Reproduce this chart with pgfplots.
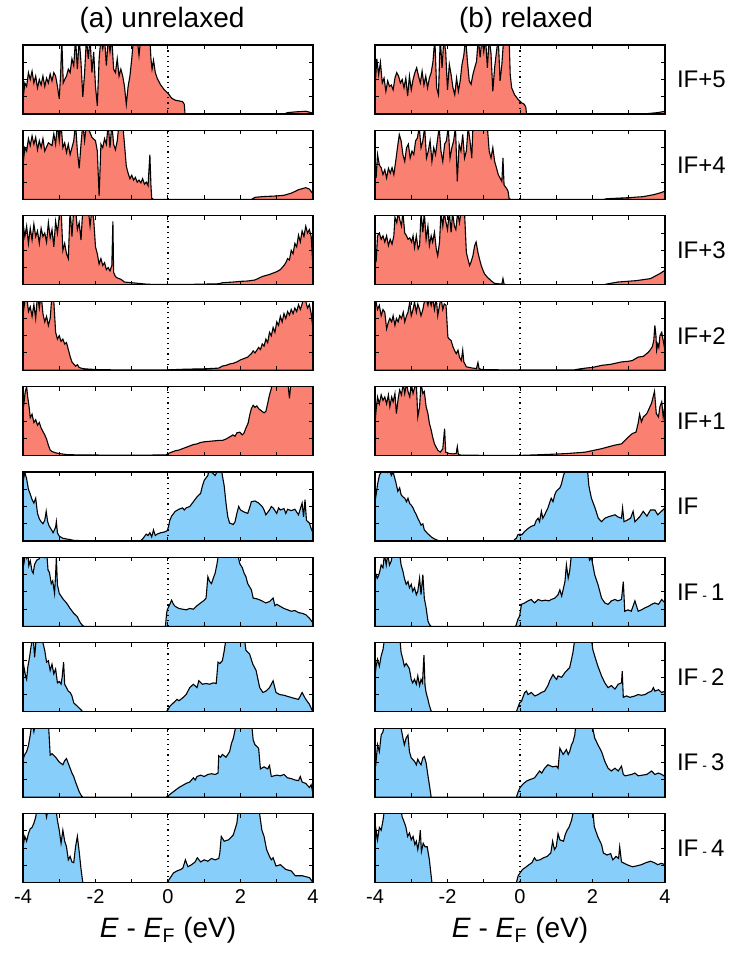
\documentclass[border=0pt]{standalone}
\usepackage{pgfplots}
\pgfplotsset{compat=1.18}
\usepackage{fontspec}
\setmainfont{Liberation Sans}
\definecolor{salm}{RGB}{250,128,114}
\definecolor{skyb}{RGB}{135,206,250}
\pgfplotsset{
 panel/.style={width=145pt,height=34.5pt,scale only axis,anchor=north west,
  xmin=-4,xmax=4,ymin=0,ymax=100,
  xtick={-4,-3,-2,-1,0,1,2,3,4},ytick={25,50,75},
  xticklabels={},yticklabels={},
  tick align=inside,major tick length=2pt,
  tick style={line width=0.5pt,black},
  axis line style={line width=0.6pt},axis on top},
 bottompanel/.style={xticklabels={-4,,-2,,0,,2,,4},
  xticklabel style={font=\fontsize{10}{12}\selectfont},
  xlabel={\textit{E} - \textit{E}\textsubscript{F} (eV)},
  xlabel style={font=\fontsize{14}{16}\selectfont}},
 rf/.style={draw=black,line width=0.55pt,fill=salm},
 bf/.style={draw=black,line width=0.55pt,fill=skyb},
 zl/.style={black,dotted,line width=0.6pt},
}
\begin{document}
\begin{tikzpicture}
\useasboundingbox (0,0) rectangle (373pt,-481.5pt);
\node[font=\fontsize{14}{16}\selectfont] at (81pt,-10pt) {(a) unrelaxed};
\node[font=\fontsize{14}{16}\selectfont] at (263pt,-10pt) {(b) relaxed};
\foreach \y/\t in {39.75/{IF+5},82.45/{IF+4},125.15/{IF+3},167.85/{IF+2},210.55/{IF+1},253.25/{IF},295.95/{IF\,{\scriptsize -}\,1},338.65/{IF\,{\scriptsize -}\,2},381.35/{IF\,{\scriptsize -}\,3},424.05/{IF\,{\scriptsize -}\,4}}
  \node[anchor=west,font=\fontsize{12}{14}\selectfont] at (335pt,-\y pt) {\t};
% ---------------- left column ----------------
\begin{axis}[panel,at={(11.5pt,-22.5pt)}]
\addplot[rf] coordinates {(-4,20)(-3.95,45)(-3.9,40)(-3.85,60)(-3.8,50)(-3.75,62)(-3.7,45)(-3.65,55)(-3.6,38)(-3.55,50)(-3.5,42)(-3.45,55)(-3.4,40)(-3.35,52)(-3.3,45)(-3.25,58)(-3.2,48)(-3.15,60)(-3.1,55)(-3.05,40)(-3,22)(-2.96,60)(-2.93,110)(-2.89,45)(-2.85,50)(-2.8,55)(-2.75,65)(-2.7,60)(-2.65,80)(-2.6,70)(-2.55,110)(-2.5,65)(-2.45,110)(-2.4,75)(-2.35,25)(-2.3,60)(-2.25,110)(-2.2,80)(-2.15,110)(-2.1,60)(-2.05,90)(-2,40)(-1.95,12)(-1.9,80)(-1.85,110)(-1.8,95)(-1.75,110)(-1.7,70)(-1.65,110)(-1.6,90)(-1.55,110)(-1.5,65)(-1.45,60)(-1.4,80)(-1.35,55)(-1.3,65)(-1.25,55)(-1.2,40)(-1.15,14)(-1.1,40)(-1.05,55)(-1,80)(-0.95,110)(-0.85,110)(-0.8,85)(-0.75,110)(-0.5,110)(-0.47,80)(-0.44,65)(-0.4,78)(-0.35,60)(-0.3,52)(-0.2,42)(-0.1,35)(0,30)(0.1,23)(0.2,20)(0.3,19)(0.4,18)(0.45,14)(0.47,0)(3.2,0)(3.3,2)(3.5,3)(3.8,4)(3.95,2)(4,0)} \closedcycle;
\addplot[zl] coordinates {(0,0)(0,100)};
\end{axis}
\begin{axis}[panel,at={(11.5pt,-65.2pt)}]
\addplot[rf] coordinates {(-4,50)(-3.95,75)(-3.9,70)(-3.85,88)(-3.8,78)(-3.75,92)(-3.7,80)(-3.65,90)(-3.6,72)(-3.55,85)(-3.5,75)(-3.45,88)(-3.4,70)(-3.3,82)(-3.2,78)(-3.15,95)(-3.1,80)(-3.05,110)(-3,85)(-2.95,110)(-2.9,75)(-2.85,82)(-2.8,68)(-2.75,80)(-2.7,65)(-2.65,75)(-2.6,85)(-2.55,110)(-2.5,70)(-2.45,45)(-2.4,80)(-2.35,110)(-2.3,85)(-2.25,110)(-2.1,90)(-2,85)(-1.95,70)(-1.9,5)(-1.85,80)(-1.8,75)(-1.75,88)(-1.7,80)(-1.65,110)(-1.6,75)(-1.55,110)(-1.5,80)(-1.45,72)(-1.4,85)(-1.35,110)(-1.25,110)(-1.2,80)(-1.15,48)(-1.1,38)(-1.05,30)(-1,35)(-0.95,28)(-0.9,32)(-0.85,25)(-0.8,28)(-0.75,24)(-0.7,30)(-0.65,22)(-0.6,25)(-0.55,20)(-0.5,65)(-0.47,20)(-0.45,2)(-0.4,0)(2.3,0)(2.4,3)(2.6,4)(3,5)(3.2,6)(3.4,9)(3.6,14)(3.8,17)(3.9,15)(4,8)} \closedcycle;
\addplot[zl] coordinates {(0,0)(0,100)};
\end{axis}
\begin{axis}[panel,at={(11.5pt,-107.9pt)}]
\addplot[rf] coordinates {(-4,90)(-3.95,70)(-3.9,85)(-3.85,60)(-3.8,82)(-3.75,65)(-3.7,88)(-3.65,70)(-3.6,78)(-3.55,60)(-3.5,82)(-3.45,70)(-3.4,75)(-3.35,62)(-3.3,90)(-3.25,68)(-3.2,80)(-3.15,55)(-3.1,92)(-3.05,75)(-3,100)(-2.95,110)(-2.9,50)(-2.85,60)(-2.8,45)(-2.75,38)(-2.7,110)(-2.65,70)(-2.6,110)(-2.55,110)(-2.5,80)(-2.45,90)(-2.4,65)(-2.35,110)(-2.2,110)(-2.15,85)(-2.1,110)(-2.05,95)(-2,55)(-1.95,45)(-1.9,30)(-1.85,38)(-1.8,28)(-1.75,32)(-1.7,22)(-1.65,25)(-1.6,20)(-1.55,28)(-1.52,92)(-1.5,18)(-1.45,12)(-1.4,10)(-1.3,8)(-1.2,4)(-1,3)(-0.8,2)(-0.6,1)(-0.4,0.5)(0.5,0.5)(1,1)(1.4,1.5)(1.5,3)(1.8,4)(2,5)(2.2,5.5)(2.4,7)(2.6,12)(2.8,15)(3,19)(3.1,22)(3.2,28)(3.25,32)(3.3,38)(3.35,36)(3.4,50)(3.45,45)(3.5,60)(3.55,55)(3.6,72)(3.65,62)(3.7,78)(3.75,70)(3.8,85)(3.85,75)(3.9,80)(3.95,70)(4,25)} \closedcycle;
\addplot[zl] coordinates {(0,0)(0,100)};
\end{axis}
\begin{axis}[panel,at={(11.5pt,-150.6pt)}]
\addplot[rf] coordinates {(-4,80)(-3.95,100)(-3.9,110)(-3.85,85)(-3.8,92)(-3.75,78)(-3.7,95)(-3.65,75)(-3.6,110)(-3.55,90)(-3.5,110)(-3.45,82)(-3.4,70)(-3.35,78)(-3.3,65)(-3.25,75)(-3.2,110)(-3.15,100)(-3.1,55)(-3.05,45)(-3,50)(-2.95,42)(-2.9,45)(-2.85,38)(-2.8,40)(-2.75,30)(-2.7,20)(-2.65,12)(-2.6,9)(-2.55,6)(-2.5,8)(-2.45,4)(-2.4,3)(-2.3,2)(-2,1)(-1.5,0.5)(0,0.5)(0.5,1.5)(1,2)(1.4,3)(1.5,6)(1.6,7)(1.7,9)(1.8,10)(1.9,12)(2,15)(2.1,17)(2.2,19)(2.3,24)(2.35,28)(2.4,25)(2.5,33)(2.55,30)(2.6,38)(2.65,35)(2.7,45)(2.75,40)(2.8,55)(2.85,50)(2.9,62)(2.95,55)(3,70)(3.05,65)(3.1,78)(3.15,70)(3.2,82)(3.25,75)(3.3,85)(3.35,80)(3.4,88)(3.45,82)(3.5,90)(3.55,85)(3.6,95)(3.65,88)(3.7,96)(3.75,110)(3.8,100)(3.85,90)(3.9,95)(3.95,82)(4,60)} \closedcycle;
\addplot[zl] coordinates {(0,0)(0,100)};
\end{axis}
\begin{axis}[panel,at={(11.5pt,-193.3pt)}]
\addplot[rf] coordinates {(-4,65)(-3.97,78)(-3.94,92)(-3.9,100)(-3.87,85)(-3.83,70)(-3.8,55)(-3.75,60)(-3.7,48)(-3.65,52)(-3.6,44)(-3.55,48)(-3.5,40)(-3.45,35)(-3.4,30)(-3.35,24)(-3.3,15)(-3.25,8)(-3.2,6)(-3.1,4)(-3,3)(-2.8,1.5)(-2.5,1)(-1,0.5)(-0.05,1)(0,3)(0.1,5)(0.2,7)(0.3,8)(0.4,10)(0.5,12)(0.6,14)(0.7,16)(0.8,17)(0.9,19)(1,20)(1.2,21)(1.4,22)(1.5,22)(1.6,24)(1.7,27)(1.79,30)(1.85,28)(1.9,33)(1.98,34)(2.05,30)(2.1,33)(2.15,40)(2.21,47)(2.26,60)(2.3,68)(2.35,73)(2.4,70)(2.45,72)(2.5,68)(2.55,66)(2.6,64)(2.65,62)(2.7,64)(2.76,78)(2.8,88)(2.85,97)(2.9,110)(3.3,110)(3.35,83)(3.4,110)(4,110)} \closedcycle;
\addplot[zl] coordinates {(0,0)(0,100)};
\end{axis}
\begin{axis}[panel,at={(11.5pt,-236pt)}]
\addplot[bf] coordinates {(-4,85)(-3.95,100)(-3.9,90)(-3.85,75)(-3.8,68)(-3.75,60)(-3.7,55)(-3.65,62)(-3.6,40)(-3.55,32)(-3.5,28)(-3.45,25)(-3.4,30)(-3.36,43)(-3.32,28)(-3.28,22)(-3.2,15)(-3.17,12)(-3.1,20)(-3.08,28)(-3.05,12)(-3,7)(-2.9,4)(-2.8,3)(-2.7,2)(-2.6,1)(-2.4,0.5)(-0.75,0.5)(-0.7,3)(-0.6,10)(-0.55,8)(-0.5,12)(-0.45,6)(-0.4,16)(-0.35,8)(-0.3,10)(-0.2,12)(-0.1,13)(-0.02,15)(0.02,22)(0.05,30)(0.1,36)(0.2,43)(0.3,46)(0.4,48)(0.45,45)(0.5,48)(0.6,50)(0.7,57)(0.8,64)(0.9,69)(0.95,80)(1,88)(1.1,95)(1.15,110)(1.2,100)(1.3,95)(1.4,105)(1.45,110)(1.5,95)(1.55,80)(1.6,55)(1.65,35)(1.7,26)(1.8,24)(1.85,28)(1.9,40)(1.95,50)(2,45)(2.1,42)(2.2,40)(2.25,48)(2.3,57)(2.4,58)(2.5,55)(2.6,50)(2.65,45)(2.7,38)(2.8,45)(2.85,50)(2.9,48)(3,40)(3.05,48)(3.1,45)(3.2,47)(3.25,40)(3.3,46)(3.4,44)(3.5,46)(3.6,38)(3.7,55)(3.74,35)(3.78,60)(3.82,30)(3.9,26)(3.95,18)(4,12)} \closedcycle;
\addplot[zl] coordinates {(0,0)(0,100)};
\end{axis}
\begin{axis}[panel,at={(11.5pt,-278.7pt)}]
\addplot[bf] coordinates {(-4,85)(-3.97,92)(-3.94,110)(-3.9,100)(-3.87,110)(-3.84,88)(-3.8,95)(-3.75,80)(-3.72,77)(-3.68,90)(-3.62,96)(-3.55,98)(-3.5,110)(-3.45,105)(-3.4,100)(-3.35,110)(-3.31,82)(-3.27,78)(-3.22,62)(-3.18,66)(-3.13,48)(-3.1,75)(-3.08,100)(-3.05,60)(-3,48)(-2.9,40)(-2.8,34)(-2.75,30)(-2.7,26)(-2.6,19)(-2.5,14)(-2.45,8)(-2.4,4)(-2.35,1)(-2.3,0)(-0.07,0)(-0.04,18)(-0.02,24)(0.05,32)(0.1,38)(0.15,32)(0.2,29)(0.3,26)(0.4,25)(0.5,24)(0.6,26)(0.7,25)(0.8,30)(0.9,34)(1,38)(1.05,41)(1.1,72)(1.15,65)(1.2,62)(1.25,70)(1.3,77)(1.35,90)(1.38,100)(1.45,110)(1.9,110)(1.98,91)(2.05,85)(2.1,77)(2.15,72)(2.2,62)(2.3,53)(2.35,41)(2.45,40)(2.55,38)(2.7,34)(2.8,36)(2.9,41)(2.95,30)(3,32)(3.1,29)(3.2,26)(3.3,24)(3.4,22)(3.5,23)(3.6,20)(3.7,19)(3.8,17)(3.9,12)(4,5)} \closedcycle;
\addplot[zl] coordinates {(0,0)(0,100)};
\end{axis}
\begin{axis}[panel,at={(11.5pt,-321.4pt)}]
\addplot[bf] coordinates {(-4,50)(-3.97,64)(-3.93,52)(-3.9,47)(-3.87,64)(-3.82,79)(-3.78,94)(-3.72,110)(-3.68,79)(-3.63,110)(-3.5,110)(-3.45,100)(-3.4,89)(-3.35,72)(-3.3,74)(-3.25,60)(-3.2,69)(-3.15,55)(-3.1,62)(-3.05,42)(-3,44)(-2.95,40)(-2.92,50)(-2.88,72)(-2.85,40)(-2.8,35)(-2.75,30)(-2.7,28)(-2.65,23)(-2.6,13)(-2.5,8)(-2.4,3)(-2.35,0)(-0.05,0)(0,3)(0.05,8)(0.15,13)(0.25,18)(0.3,16)(0.4,20)(0.5,25)(0.6,35)(0.7,40)(0.8,35)(0.85,45)(0.95,40)(1.05,41)(1.15,40)(1.25,42)(1.33,41)(1.38,72)(1.43,70)(1.5,74)(1.55,88)(1.61,110)(2.1,110)(2.15,89)(2.25,84)(2.34,69)(2.43,60)(2.53,35)(2.62,28)(2.7,30)(2.8,35)(2.9,45)(2.98,28)(3.08,25)(3.2,24)(3.26,23)(3.45,20)(3.6,18)(3.7,28)(3.78,20)(3.83,16)(3.9,11)(3.97,3)(4,0)} \closedcycle;
\addplot[zl] coordinates {(0,0)(0,100)};
\end{axis}
\begin{axis}[panel,at={(11.5pt,-364.1pt)}]
\addplot[bf] coordinates {(-4,55)(-3.95,62)(-3.9,66)(-3.85,75)(-3.8,90)(-3.75,110)(-3.7,95)(-3.65,110)(-3.3,110)(-3.25,61)(-3.2,63)(-3.1,58)(-3,51)(-2.9,47)(-2.85,53)(-2.8,56)(-2.75,49)(-2.7,42)(-2.65,35)(-2.6,30)(-2.55,22)(-2.5,15)(-2.45,8)(-2.4,3)(-2.35,0)(-0.05,0)(0,2)(0.1,6)(0.2,10)(0.3,14)(0.4,17)(0.5,20)(0.6,22)(0.7,28)(0.75,25)(0.8,30)(0.9,32)(1,30)(1.1,33)(1.2,34)(1.3,33)(1.38,35)(1.4,60)(1.45,58)(1.5,62)(1.6,58)(1.7,66)(1.75,78)(1.8,85)(1.9,110)(2.3,110)(2.35,83)(2.4,76)(2.5,71)(2.55,41)(2.65,44)(2.75,41)(2.8,46)(2.85,30)(3,32)(3.1,31)(3.2,33)(3.3,28)(3.4,27)(3.5,25)(3.6,24)(3.65,30)(3.7,22)(3.8,20)(3.9,14)(3.95,18)(4,5)} \closedcycle;
\addplot[zl] coordinates {(0,0)(0,100)};
\end{axis}
\begin{axis}[panel,bottompanel,at={(11.5pt,-406.8pt)}]
\addplot[bf] coordinates {(-4,52)(-3.95,67)(-3.9,60)(-3.85,71)(-3.8,78)(-3.75,80)(-3.7,86)(-3.65,95)(-3.6,110)(-3.4,110)(-3.35,95)(-3.3,110)(-3.1,110)(-3.05,90)(-3,76)(-2.95,57)(-2.9,76)(-2.85,60)(-2.8,52)(-2.75,33)(-2.7,38)(-2.65,30)(-2.6,29)(-2.55,52)(-2.5,67)(-2.45,45)(-2.4,20)(-2.35,0)(-0.03,0)(0,2)(0.1,10)(0.15,14)(0.25,17)(0.35,19)(0.41,21)(0.48,33)(0.55,23)(0.65,26)(0.75,30)(0.81,36)(0.9,30)(1,33)(1.1,31)(1.2,35)(1.3,33)(1.4,35)(1.43,43)(1.47,67)(1.55,60)(1.67,62)(1.8,69)(1.9,86)(1.95,110)(2.5,110)(2.59,76)(2.65,67)(2.72,48)(2.8,38)(2.85,33)(2.9,36)(2.98,24)(3.1,26)(3.25,19)(3.4,17)(3.51,10)(3.7,10)(3.85,8)(3.91,7)(4,0)} \closedcycle;
\addplot[zl] coordinates {(0,0)(0,100)};
\end{axis}
% ---------------- right column ----------------
\begin{axis}[panel,at={(187.5pt,-22.5pt)}]
\addplot[rf] coordinates {(-4,38)(-3.95,80)(-3.9,57)(-3.85,75)(-3.8,45)(-3.75,52)(-3.7,33)(-3.65,48)(-3.6,40)(-3.55,42)(-3.5,35)(-3.45,52)(-3.4,60)(-3.35,55)(-3.3,45)(-3.25,50)(-3.2,38)(-3.15,52)(-3.1,26)(-3.05,55)(-3,35)(-2.95,50)(-2.9,60)(-2.85,67)(-2.8,55)(-2.75,45)(-2.7,62)(-2.65,42)(-2.6,55)(-2.55,38)(-2.5,52)(-2.45,60)(-2.4,76)(-2.35,110)(-2.3,38)(-2.25,28)(-2.2,110)(-2.15,67)(-2.1,110)(-2.05,90)(-2,35)(-1.95,72)(-1.9,57)(-1.85,38)(-1.8,28)(-1.75,52)(-1.7,33)(-1.65,48)(-1.6,72)(-1.55,85)(-1.5,110)(-1.45,76)(-1.4,48)(-1.35,43)(-1.3,57)(-1.25,67)(-1.2,76)(-1.15,110)(-1.1,82)(-1.05,110)(-1,90)(-0.95,110)(-0.9,67)(-0.85,110)(-0.8,88)(-0.75,33)(-0.7,67)(-0.65,90)(-0.6,110)(-0.55,48)(-0.5,72)(-0.45,110)(-0.3,110)(-0.27,57)(-0.23,38)(-0.15,28)(-0.05,21)(0.05,16)(0.12,14)(0.16,10)(0.18,0)(3.4,0)(3.6,1)(3.8,2)(4,4)} \closedcycle;
\addplot[zl] coordinates {(0,0)(0,100)};
\end{axis}
\begin{axis}[panel,at={(187.5pt,-65.2pt)}]
\addplot[rf] coordinates {(-4,60)(-3.97,31)(-3.93,65)(-3.88,50)(-3.83,46)(-3.78,36)(-3.73,43)(-3.68,31)(-3.63,45)(-3.58,38)(-3.53,46)(-3.48,36)(-3.43,55)(-3.38,75)(-3.33,94)(-3.28,85)(-3.23,65)(-3.18,55)(-3.13,75)(-3.08,80)(-3.03,60)(-2.98,70)(-2.93,65)(-2.88,85)(-2.83,89)(-2.78,105)(-2.73,75)(-2.68,85)(-2.63,105)(-2.58,60)(-2.53,70)(-2.48,85)(-2.43,55)(-2.38,75)(-2.33,65)(-2.28,85)(-2.23,105)(-2.18,70)(-2.13,55)(-2.08,80)(-2.03,85)(-1.98,105)(-1.93,60)(-1.88,75)(-1.83,85)(-1.78,105)(-1.73,26)(-1.68,80)(-1.63,70)(-1.58,94)(-1.53,60)(-1.48,70)(-1.43,105)(-1.38,85)(-1.33,60)(-1.3,105)(-1.25,110)(-0.95,110)(-0.9,105)(-0.85,70)(-0.8,60)(-0.75,75)(-0.7,55)(-0.65,46)(-0.6,36)(-0.55,31)(-0.5,26)(-0.47,60)(-0.44,21)(-0.4,18)(-0.36,15)(-0.33,12)(-0.3,1)(-0.25,0)(2.3,0)(2.4,1)(2.6,1.5)(3,2.5)(3.4,4)(3.7,7)(3.9,10)(4,12)} \closedcycle;
\addplot[zl] coordinates {(0,0)(0,100)};
\end{axis}
\begin{axis}[panel,at={(187.5pt,-107.9pt)}]
\addplot[rf] coordinates {(-4,62)(-3.97,33)(-3.93,71)(-3.88,75)(-3.83,66)(-3.78,71)(-3.73,62)(-3.68,71)(-3.63,57)(-3.58,66)(-3.53,59)(-3.48,71)(-3.45,98)(-3.4,90)(-3.36,105)(-3.32,95)(-3.27,85)(-3.23,105)(-3.18,75)(-3.13,71)(-3.09,66)(-3.04,68)(-2.99,62)(-2.95,71)(-2.91,54)(-2.86,71)(-2.81,52)(-2.77,57)(-2.73,105)(-2.68,76)(-2.64,105)(-2.59,66)(-2.54,85)(-2.5,57)(-2.45,71)(-2.41,62)(-2.36,76)(-2.31,52)(-2.27,42)(-2.22,62)(-2.18,105)(-2.13,85)(-2.09,105)(-2.04,90)(-2,80)(-1.95,105)(-1.9,76)(-1.86,105)(-1.81,85)(-1.77,80)(-1.72,105)(-1.67,90)(-1.63,105)(-1.58,110)(-1.53,105)(-1.48,47)(-1.44,38)(-1.39,28)(-1.35,33)(-1.3,42)(-1.25,57)(-1.21,62)(-1.16,47)(-1.12,38)(-1.07,28)(-1.02,21)(-0.98,16)(-0.9,11)(-0.8,6)(-0.7,2)(-0.6,1.5)(-0.5,1)(-0.47,9)(-0.44,1)(-0.35,0)(2.3,0)(2.43,1.5)(2.7,4)(3.2,6)(3.6,9)(3.85,16)(3.91,18)(4,21)} \closedcycle;
\addplot[zl] coordinates {(0,0)(0,100)};
\end{axis}
\begin{axis}[panel,at={(187.5pt,-150.6pt)}]
\addplot[rf] coordinates {(-4,94)(-3.97,99)(-3.93,88)(-3.88,94)(-3.83,79)(-3.78,88)(-3.73,84)(-3.68,60)(-3.63,70)(-3.59,75)(-3.54,70)(-3.5,79)(-3.45,65)(-3.41,75)(-3.36,70)(-3.32,79)(-3.27,75)(-3.22,84)(-3.18,70)(-3.13,79)(-3.09,84)(-3.04,99)(-3,79)(-2.95,88)(-2.91,99)(-2.86,84)(-2.82,96)(-2.77,88)(-2.73,79)(-2.68,88)(-2.64,99)(-2.59,105)(-2.54,94)(-2.5,105)(-2.45,94)(-2.41,105)(-2.36,88)(-2.31,105)(-2.27,79)(-2.22,94)(-2.18,105)(-2.13,88)(-2.09,96)(-2.04,94)(-1.99,48)(-1.95,45)(-1.9,43)(-1.85,34)(-1.81,29)(-1.76,24)(-1.71,29)(-1.67,19)(-1.62,14)(-1.58,29)(-1.55,12)(-1.48,5)(-1.4,4)(-1.3,3)(-1.2,2.5)(-1.16,11)(-1.13,2.5)(-1.07,1)(-0.5,0.5)(1.5,0.5)(1.6,1.5)(1.8,3)(2,4)(2.25,7)(2.5,8.5)(2.8,12)(3,13)(3.1,14)(3.26,19)(3.4,20)(3.54,26)(3.6,30)(3.65,34)(3.69,43)(3.72,65)(3.75,50)(3.77,29)(3.8,38)(3.83,33)(3.86,50)(3.91,55)(3.95,43)(4,29)} \closedcycle;
\addplot[zl] coordinates {(0,0)(0,100)};
\end{axis}
\begin{axis}[panel,at={(187.5pt,-193.3pt)}]
\addplot[rf] coordinates {(-4,47)(-3.97,66)(-3.93,85)(-3.88,75)(-3.83,88)(-3.78,80)(-3.73,85)(-3.68,75)(-3.63,88)(-3.59,71)(-3.54,85)(-3.5,78)(-3.45,90)(-3.41,61)(-3.36,83)(-3.32,95)(-3.27,88)(-3.22,105)(-3.18,90)(-3.13,105)(-3.09,93)(-3.04,85)(-3,105)(-2.95,90)(-2.91,98)(-2.86,105)(-2.82,56)(-2.77,71)(-2.73,105)(-2.68,90)(-2.64,93)(-2.59,71)(-2.54,61)(-2.5,47)(-2.45,37)(-2.41,27)(-2.36,17)(-2.32,13)(-2.27,8)(-2.2,5)(-2.13,10)(-2.08,39)(-2.05,5)(-1.95,3)(-1.85,2.5)(-1.76,3)(-1.73,13)(-1.7,1.5)(-1.6,0.5)(0,0.3)(0.4,1)(0.9,2)(1.3,3)(1.8,5)(2.25,10)(2.6,15)(2.8,17)(2.99,27)(3.1,32)(3.2,34)(3.26,47)(3.3,60)(3.35,49)(3.4,56)(3.5,61)(3.63,76)(3.71,93)(3.76,61)(3.82,56)(3.86,71)(3.91,78)(3.95,56)(4,73)} \closedcycle;
\addplot[zl] coordinates {(0,0)(0,100)};
\end{axis}
\begin{axis}[panel,at={(187.5pt,-236pt)}]
\addplot[bf] coordinates {(-4,57)(-3.97,67)(-3.93,82)(-3.88,95)(-3.83,100)(-3.78,110)(-3.7,110)(-3.65,100)(-3.6,105)(-3.55,95)(-3.5,100)(-3.45,90)(-3.42,84)(-3.37,72)(-3.32,77)(-3.28,67)(-3.23,64)(-3.18,62)(-3.13,57)(-3.09,62)(-3.04,54)(-3,52)(-2.95,48)(-2.91,43)(-2.86,38)(-2.82,33)(-2.77,28)(-2.73,23)(-2.68,25)(-2.64,16)(-2.55,11)(-2.45,6)(-2.36,3)(-2.27,1)(-2.2,0)(-0.18,0)(-0.15,2)(-0.1,4)(-0.06,9)(0,10)(0.05,9)(0.13,14)(0.22,18)(0.3,21)(0.4,23)(0.45,30)(0.5,33)(0.54,28)(0.59,43)(0.63,33)(0.68,38)(0.77,48)(0.86,62)(0.91,57)(0.96,67)(1,72)(1.1,77)(1.14,82)(1.2,95)(1.3,110)(1.85,110)(1.9,80)(1.97,62)(2.07,48)(2.16,33)(2.25,28)(2.34,33)(2.43,35)(2.62,38)(2.7,35)(2.8,33)(2.83,48)(2.87,28)(2.95,30)(3.05,33)(3.12,43)(3.17,28)(3.3,35)(3.4,43)(3.5,36)(3.6,45)(3.72,45)(3.8,38)(3.9,43)(4,48)} \closedcycle;
\addplot[zl] coordinates {(0,0)(0,100)};
\end{axis}
\begin{axis}[panel,at={(187.5pt,-278.7pt)}]
\addplot[bf] coordinates {(-4,61)(-3.97,75)(-3.93,70)(-3.88,77)(-3.83,89)(-3.78,85)(-3.74,105)(-3.69,89)(-3.65,105)(-3.6,89)(-3.55,95)(-3.5,110)(-3.33,110)(-3.28,89)(-3.23,80)(-3.19,70)(-3.14,61)(-3.09,65)(-3.05,56)(-3,61)(-2.96,51)(-2.91,56)(-2.86,46)(-2.82,51)(-2.77,70)(-2.73,46)(-2.68,75)(-2.64,41)(-2.59,27)(-2.54,8)(-2.5,3)(-2.45,0)(-0.12,0)(-0.1,3)(-0.06,10)(-0.01,15)(0.04,32)(0.13,34)(0.22,37)(0.31,39)(0.4,34)(0.5,39)(0.6,37)(0.7,38)(0.8,37)(0.86,39)(0.96,41)(1.05,46)(1.1,53)(1.15,44)(1.24,65)(1.28,89)(1.33,70)(1.37,80)(1.42,105)(1.5,110)(1.85,110)(1.92,96)(1.97,100)(2.01,89)(2.06,75)(2.15,61)(2.25,41)(2.34,34)(2.43,32)(2.52,37)(2.62,39)(2.7,37)(2.8,39)(2.85,65)(2.89,22)(2.98,24)(3.07,22)(3.17,37)(3.26,22)(3.35,24)(3.45,27)(3.54,29)(3.63,32)(3.72,34)(3.82,32)(3.91,39)(4,34)} \closedcycle;
\addplot[zl] coordinates {(0,0)(0,100)};
\end{axis}
\begin{axis}[panel,at={(187.5pt,-321.4pt)}]
\addplot[bf] coordinates {(-4,52)(-3.97,66)(-3.93,76)(-3.88,66)(-3.83,81)(-3.78,90)(-3.74,105)(-3.7,110)(-3.32,110)(-3.28,86)(-3.23,76)(-3.19,66)(-3.14,70)(-3.09,66)(-3.05,62)(-3,47)(-2.96,42)(-2.91,47)(-2.86,40)(-2.82,52)(-2.77,38)(-2.73,47)(-2.69,42)(-2.65,82)(-2.62,38)(-2.59,28)(-2.54,18)(-2.5,9)(-2.45,1)(-2.4,0)(-0.1,0)(-0.06,6)(-0.01,13)(0.04,15)(0.08,21)(0.13,28)(0.18,30)(0.22,25)(0.31,28)(0.41,23)(0.5,25)(0.59,28)(0.68,30)(0.77,38)(0.82,45)(0.87,50)(0.91,54)(0.96,50)(1.01,47)(1.05,52)(1.15,50)(1.24,57)(1.33,62)(1.37,64)(1.42,76)(1.46,86)(1.51,105)(1.55,110)(1.95,110)(1.97,105)(2.01,90)(2.06,81)(2.15,66)(2.25,52)(2.34,42)(2.43,35)(2.52,38)(2.62,33)(2.71,40)(2.8,42)(2.82,59)(2.85,21)(2.94,23)(3.03,21)(3.17,23)(3.26,25)(3.35,24)(3.45,25)(3.54,28)(3.63,30)(3.68,35)(3.72,30)(3.82,32)(3.91,28)(4,30)} \closedcycle;
\addplot[zl] coordinates {(0,0)(0,100)};
\end{axis}
\begin{axis}[panel,at={(187.5pt,-364.1pt)}]
\addplot[bf] coordinates {(-4,62)(-3.97,52)(-3.93,76)(-3.88,66)(-3.83,90)(-3.78,95)(-3.74,105)(-3.7,110)(-3.32,110)(-3.28,100)(-3.23,86)(-3.19,76)(-3.14,86)(-3.09,90)(-3.05,66)(-3,57)(-2.91,52)(-2.86,47)(-2.82,55)(-2.77,50)(-2.73,47)(-2.68,57)(-2.64,59)(-2.59,50)(-2.55,35)(-2.5,18)(-2.45,0)(-0.1,0)(-0.05,8)(0,14)(0.1,20)(0.2,24)(0.3,26)(0.4,28)(0.54,38)(0.6,35)(0.68,42)(0.77,47)(0.9,44)(1,45)(1.05,42)(1.1,71)(1.15,66)(1.19,62)(1.28,69)(1.33,62)(1.37,66)(1.42,76)(1.46,80)(1.51,90)(1.55,110)(1.97,110)(2.06,86)(2.15,76)(2.25,66)(2.34,52)(2.43,42)(2.52,38)(2.62,42)(2.71,38)(2.8,45)(2.85,33)(2.9,31)(3.08,33)(3.17,35)(3.26,31)(3.5,33)(3.63,38)(3.72,33)(3.82,35)(3.91,33)(4,30)} \closedcycle;
\addplot[zl] coordinates {(0,0)(0,100)};
\end{axis}
\begin{axis}[panel,bottompanel,at={(187.5pt,-406.8pt)}]
\addplot[bf] coordinates {(-4,52)(-3.97,76)(-3.93,62)(-3.88,80)(-3.83,76)(-3.78,90)(-3.74,105)(-3.7,110)(-3.3,110)(-3.25,95)(-3.21,90)(-3.15,81)(-3.1,67)(-3.05,72)(-3,62)(-2.95,67)(-2.9,55)(-2.86,60)(-2.82,48)(-2.78,60)(-2.75,76)(-2.72,45)(-2.67,57)(-2.62,52)(-2.56,52)(-2.5,33)(-2.43,0)(-0.1,0)(-0.05,10)(0,14)(0.07,19)(0.15,22)(0.25,26)(0.33,29)(0.4,36)(0.45,32)(0.55,33)(0.65,36)(0.75,38)(0.85,43)(0.9,60)(0.95,48)(1,52)(1.05,71)(1.1,62)(1.2,60)(1.25,70)(1.3,76)(1.35,80)(1.42,90)(1.5,110)(2,110)(2.05,81)(2.15,66)(2.25,55)(2.3,43)(2.4,40)(2.5,42)(2.56,33)(2.65,38)(2.72,35)(2.75,52)(2.8,30)(2.95,26)(3.1,23)(3.2,24)(3.35,26)(3.48,29)(3.6,31)(3.7,29)(3.8,26)(3.9,28)(4,26)} \closedcycle;
\addplot[zl] coordinates {(0,0)(0,100)};
\end{axis}
\end{tikzpicture}
\end{document}
